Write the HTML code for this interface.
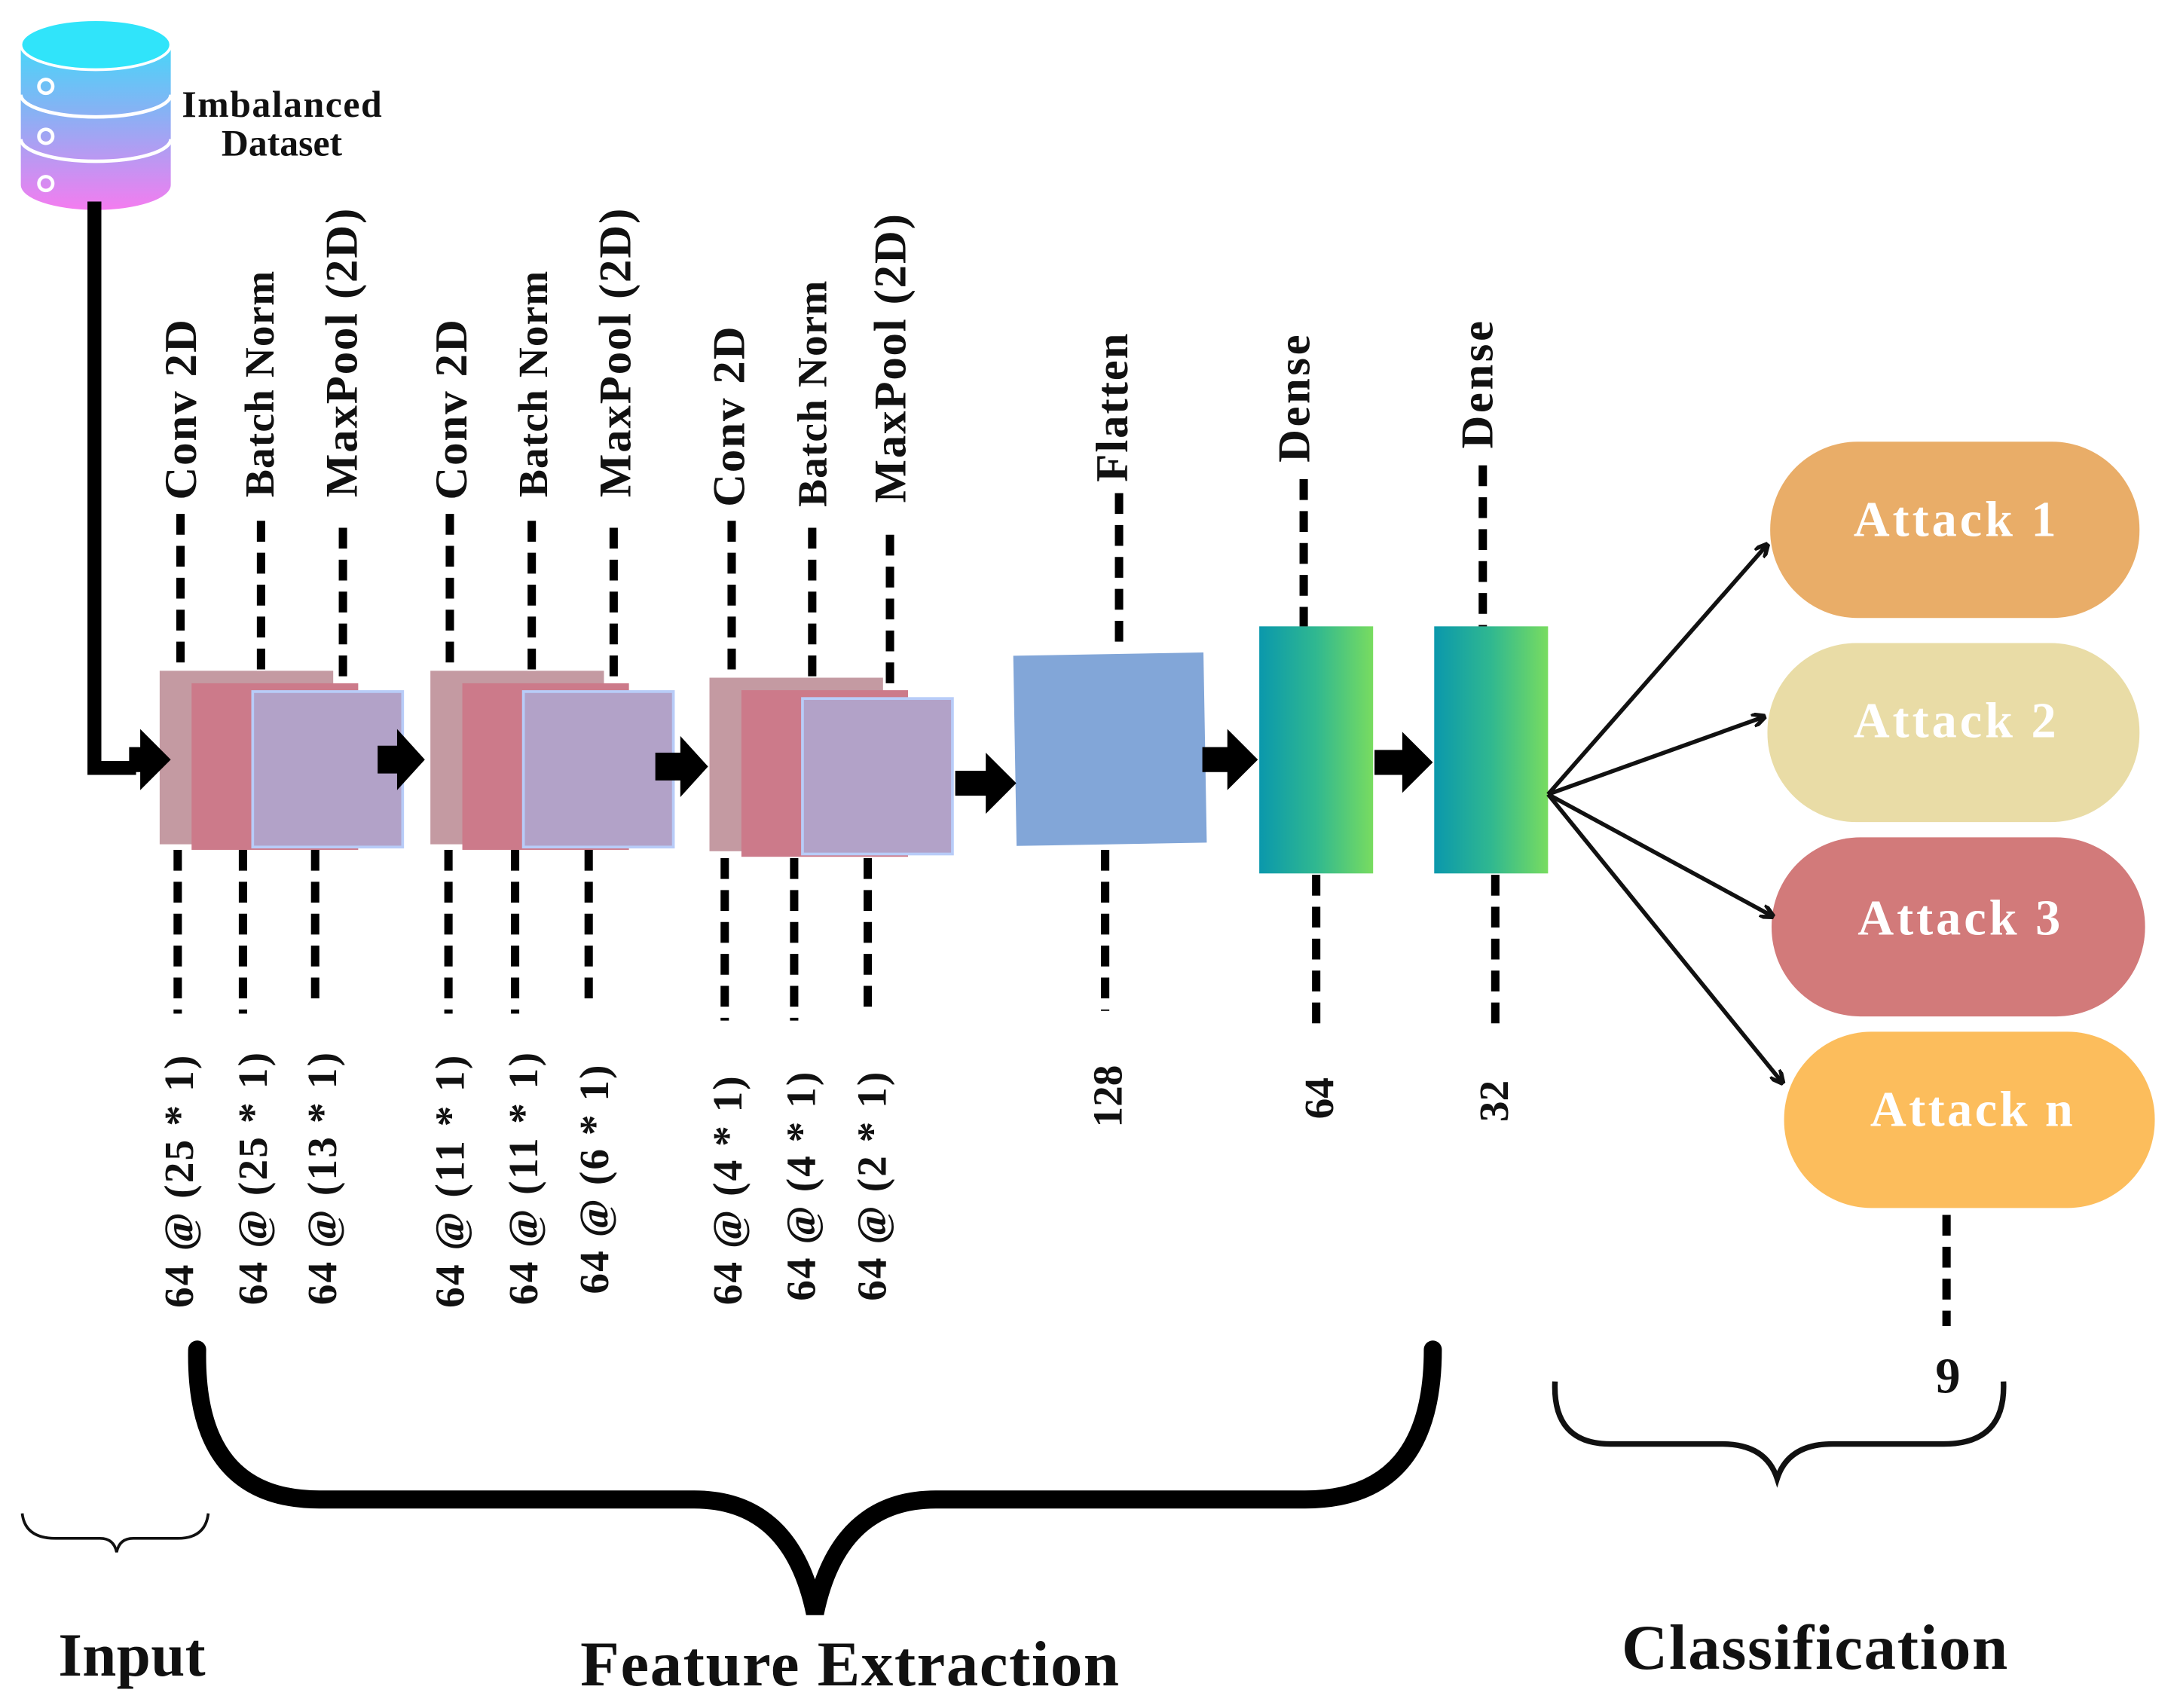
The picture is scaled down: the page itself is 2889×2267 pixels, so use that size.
<!DOCTYPE html>
<html><head><meta charset="utf-8"><style>
html,body{margin:0;padding:0;background:#fff;}
svg{display:block;}
text{font-family:"Liberation Serif",serif;font-weight:bold;fill:#111;}
</style></head><body>
<svg width="2889" height="2267" viewBox="0 0 1568 1230" xmlns="http://www.w3.org/2000/svg">
<defs>
<linearGradient id="db" x1="0" y1="0" x2="0" y2="1"><stop offset="0" stop-color="#2ee4fa"/><stop offset="0.5" stop-color="#8ab0f4"/><stop offset="1" stop-color="#f47cf0"/></linearGradient>
<linearGradient id="dn" x1="0" y1="0" x2="1" y2="0"><stop offset="0" stop-color="#0a98ac"/><stop offset="0.5" stop-color="#30b890"/><stop offset="1" stop-color="#78dc60"/></linearGradient>
<marker id="ah" markerWidth="10" markerHeight="10" refX="9" refY="5" orient="auto" markerUnits="userSpaceOnUse"><path d="M0,0 L10,5 L0,10" fill="none" stroke="#111" stroke-width="3"/></marker>
</defs>
<rect width="1568" height="1230" fill="#fff"/>
<!-- database -->
<path d="M15,32 A54,18 0 0 1 123,32 L123,133 A54,18 0 0 1 15,133 Z" fill="url(#db)"/>
<ellipse cx="69" cy="32" rx="54" ry="18" fill="#30e4fa" stroke="#fff" stroke-width="2"/>
<path d="M15,68 A54,16 0 0 0 123,68 M15,100 A54,16 0 0 0 123,100" fill="none" stroke="#fff" stroke-width="2.5"/>
<circle cx="33" cy="62" r="5" fill="none" stroke="#fff" stroke-width="2.5"/>
<circle cx="33" cy="98" r="5" fill="none" stroke="#fff" stroke-width="2.5"/>
<circle cx="33" cy="132" r="5" fill="none" stroke="#fff" stroke-width="2.5"/>
<text x="203" y="84" font-size="27" text-anchor="middle" textLength="144">Imbalanced</text>
<text x="203" y="112" font-size="27" text-anchor="middle">Dataset</text>
<path d="M68,145 V553 H98" fill="none" stroke="#000" stroke-width="10"/>
<!-- conv blocks -->
<g id="b1">
<rect x="115" y="483" width="125" height="125" fill="#c49aa2"/>
<rect x="138" y="492" width="120" height="120" fill="#cc7a8a"/>
<rect x="182" y="498" width="108" height="112" fill="#b2a2c8" stroke="#b8ccf8" stroke-width="2"/>
</g>
<use href="#b1" x="195" y="0"/>
<use href="#b1" x="396" y="5"/>
<rect x="731" y="471" width="137" height="137" fill="#82a6d8" transform="rotate(-1 800 540)"/>
<rect x="907" y="451" width="82" height="178" fill="url(#dn)"/>
<rect x="1033" y="451" width="82" height="178" fill="url(#dn)"/>
<!-- arrows -->
<g fill="#000">
<path d="M93,538 h8 v-13 l22,22 -22,22 v-13 h-8 z"/>
<path d="M272,537 h14 v-12 l20,22 -20,22 v-12 h-14 z"/>
<path d="M472,542 h18 v-12 l20,22 -20,22 v-12 h-18 z"/>
<path d="M688,555 h22 v-13 l22,22 -22,22 v-13 h-22 z"/>
<path d="M866,538 h18 v-13 l22,22 -22,22 v-13 h-18 z"/>
<path d="M990,540 h20 v-13 l22,22 -22,22 v-13 h-20 z"/>
</g>
<!-- dashed lines -->
<g stroke="#000" stroke-width="6" stroke-dasharray="15,8" fill="none">
<path d="M130,370V483 M188,375V483 M247,380V490 M324,370V483 M383,375V483 M442,380V490 M527,375V490 M585,380V490 M641,385V495 M806,355V470 M939,345V451 M1068,335V451"/>
<path d="M128,612V730 M175,612V730 M227,612V725 M323,612V730 M371,612V730 M424,612V725 M522,618V735 M572,618V735 M625,618V730 M796,612V728 M948,630V745 M1077,630V745 M1402,875V955"/>
</g>
<!-- top labels -->
<g font-size="33">
<text transform="translate(141,360) rotate(-90)" textLength="130">Conv 2D</text>
<text transform="translate(197,358) rotate(-90)" font-size="30" textLength="163">Batch Norm</text>
<text transform="translate(257,358) rotate(-90)" textLength="208">MaxPool (2D)</text>
<text transform="translate(336,360) rotate(-90)" textLength="130">Conv 2D</text>
<text transform="translate(394,358) rotate(-90)" font-size="30" textLength="163">Batch Norm</text>
<text transform="translate(454,358) rotate(-90)" textLength="208">MaxPool (2D)</text>
<text transform="translate(536,365) rotate(-90)" textLength="130">Conv 2D</text>
<text transform="translate(595,365) rotate(-90)" font-size="30" textLength="163">Batch Norm</text>
<text transform="translate(652,362) rotate(-90)" textLength="208">MaxPool (2D)</text>
<text transform="translate(812,347) rotate(-90)" textLength="107">Flatten</text>
<text transform="translate(943,333) rotate(-90)" textLength="92">Dense</text>
<text transform="translate(1075,323) rotate(-90)" textLength="92">Dense</text>
</g>
<!-- bottom labels -->
<g font-size="30">
<text transform="translate(139,942) rotate(-90)" textLength="182">64 @ (25 * 1)</text>
<text transform="translate(192,940) rotate(-90)" textLength="182">64 @ (25 * 1)</text>
<text transform="translate(242,940) rotate(-90)" textLength="182">64 @ (13 * 1)</text>
<text transform="translate(334,942) rotate(-90)" textLength="182">64 @ (11 * 1)</text>
<text transform="translate(387,940) rotate(-90)" textLength="182">64 @ (11 * 1)</text>
<text transform="translate(438,932) rotate(-90)" textLength="165">64 @ (6 * 1)</text>
<text transform="translate(534,940) rotate(-90)" textLength="165">64 @ (4 * 1)</text>
<text transform="translate(587,937) rotate(-90)" textLength="165">64 @ (4 * 1)</text>
<text transform="translate(638,937) rotate(-90)" textLength="165">64 @ (2 * 1)</text>
<text transform="translate(808,812) rotate(-90)">128</text>
<text transform="translate(960,806) rotate(-90)">64</text>
<text transform="translate(1086,808) rotate(-90)">32</text>
</g>
<!-- attack pills -->
<rect x="1275" y="318" width="266" height="127" rx="63" fill="#e9ad68"/>
<rect x="1273" y="463" width="268" height="129" rx="64" fill="#e9dca6"/>
<rect x="1276" y="603" width="269" height="129" rx="64" fill="#d27a7a"/>
<rect x="1285" y="743" width="267" height="127" rx="63" fill="#fcbd5c"/>
<g font-size="36" text-anchor="middle">
<text x="1408" y="386" style="fill:#fff" textLength="146">Attack 1</text>
<text x="1408" y="531" style="fill:#fff" textLength="146">Attack 2</text>
<text x="1411" y="673" style="fill:#fff" textLength="146">Attack 3</text>
<text x="1420" y="811" style="fill:#fff" textLength="146">Attack n</text>
</g>
<g stroke="#111" stroke-width="3" fill="none" marker-end="url(#ah)">
<line x1="1115" y1="572" x2="1273" y2="392"/>
<line x1="1115" y1="572" x2="1271" y2="516"/>
<line x1="1115" y1="572" x2="1277" y2="660"/>
<line x1="1115" y1="572" x2="1284" y2="780"/>
</g>
<text x="1403" y="1003" font-size="36" text-anchor="middle">9</text>
<!-- braces -->
<path d="M16,1090 Q18,1108 40,1108 H72 Q82,1108 84,1118 Q86,1108 96,1108 H128 Q148,1108 150,1090" fill="none" stroke="#111" stroke-width="2"/>
<path d="M142,972 Q140,1080 230,1080 H500 Q570,1080 587,1162 Q604,1080 674,1080 H940 Q1032,1080 1032,972" fill="none" stroke="#000" stroke-width="13" stroke-linecap="round"/>
<path d="M1120,995 Q1118,1040 1160,1040 H1240 Q1272,1040 1280,1065 Q1288,1040 1320,1040 H1400 Q1445,1040 1443,995" fill="none" stroke="#111" stroke-width="4"/>
<text x="95" y="1207" font-size="44" text-anchor="middle" textLength="106">Input</text>
<text x="612" y="1214" font-size="46" text-anchor="middle" textLength="388">Feature Extraction</text>
<text x="1307" y="1202" font-size="46" text-anchor="middle" textLength="278">Classification</text>
</svg>
</body></html>
